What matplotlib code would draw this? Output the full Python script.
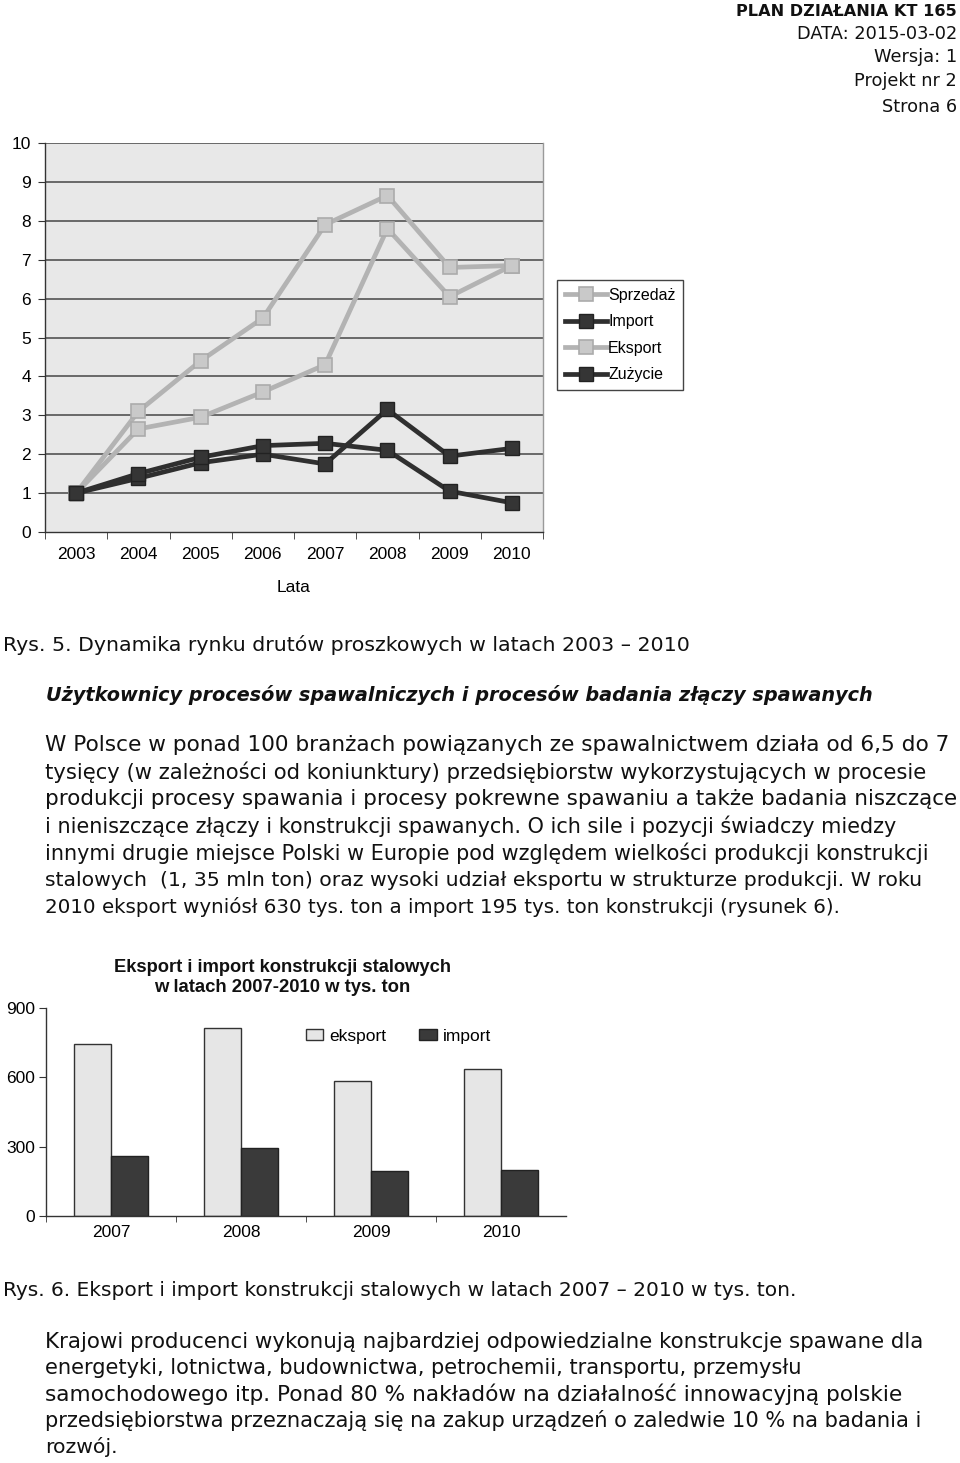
import matplotlib
matplotlib.use("Agg")
import matplotlib.pyplot as plt
from matplotlib.lines import Line2D
from matplotlib.patches import Patch
import numpy as np

# ---------------- data ----------------
line_years = ['2003', '2004', '2005', '2006', '2007', '2008', '2009', '2010']
sprzedaz = [1.0, 3.1, 4.4, 5.5, 7.9, 8.65, 6.8, 6.85]
importv = [1.0, 1.38, 1.78, 2.0, 1.75, 3.15, 1.95, 2.15]
eksportv = [1.0, 2.65, 2.95, 3.6, 4.3, 7.8, 6.05, 6.85]
zuzycie = [1.0, 1.5, 1.92, 2.22, 2.28, 2.1, 1.05, 0.75]
line_yticks = list(range(0, 11))

bar_years = ['2007', '2008', '2009', '2010']
bar_eksport = [745, 815, 585, 635]
bar_import = [260, 292, 195, 200]
bar_yticks = [0, 300, 600, 900]

W, H = 960, 1463
fig = plt.figure(figsize=(W / 100, H / 100), dpi=100)
fig.patch.set_facecolor('white')
renderer = fig.canvas.get_renderer()

CHART_FONT = ['Liberation Sans', 'DejaVu Sans']
DOC_FONT = ['DejaVu Sans']
TICK_FS = 12.5


def fx(x):
    return x / W


def fy(y):
    return 1 - y / H


def fit_text(x, y, s, width, ha='left', base=12, family=DOC_FONT, **kw):
    t = fig.text(fx(x), fy(y), s, fontsize=base, ha=ha, va='center',
                 family=family, color='#111111', **kw)
    bb = t.get_window_extent(renderer)
    t.set_fontsize(base * width / bb.width)
    return t


# ---------------- header ----------------
fit_text(957, 12, 'PLAN DZIAŁANIA KT 165', 220, ha='right', fontweight='bold')
hdr = fit_text(957, 34, 'DATA: 2015-03-02', 160, ha='right')
hfs = hdr.get_fontsize()
for yy, s in [(57, 'Wersja: 1'), (81, 'Projekt nr 2'), (107, 'Strona 6')]:
    fig.text(fx(957), fy(yy), s, fontsize=hfs, ha='right', va='center',
             family=DOC_FONT, color='#111111')

# ---------------- line chart ----------------
ax = fig.add_axes([fx(45), fy(532), (543 - 45) / W, (532 - 143) / H])
ax.set_facecolor('#e8e8e8')
x = np.arange(len(line_years))
gray_kw = dict(color='#b3b3b3', lw=3.4, marker='s', ms=9.5, mfc='#c9c9c9',
               mec='#ababab', mew=1.2, zorder=3)
black_kw = dict(color='#2f2f2f', lw=3.4, marker='s', ms=9.5, mfc='#353535',
                mec='#222222', mew=1.0, zorder=4)
l1, = ax.plot(x, sprzedaz, **gray_kw)
l3, = ax.plot(x, eksportv, **gray_kw)
l2, = ax.plot(x, importv, **black_kw)
l4, = ax.plot(x, zuzycie, **black_kw)
ax.set_xlim(-0.5, 7.5)
ax.set_ylim(0, 10)
ax.set_yticks(line_yticks)
ax.set_yticklabels([str(v) for v in line_yticks], family=CHART_FONT, fontsize=TICK_FS)
for v in line_yticks[1:]:
    ax.axhline(v, color='#454545', lw=1.1, zorder=1)
ax.set_xticks(x)
ax.set_xticklabels(line_years, family=CHART_FONT, fontsize=TICK_FS)
ax.set_xticks(np.arange(-0.5, 8, 1), minor=True)
ax.tick_params(axis='x', which='major', length=0, pad=11)
ax.tick_params(axis='x', which='minor', length=5, color='#333333', direction='out')
ax.tick_params(axis='y', length=5, color='#333333', pad=5)
for s in ['left', 'bottom']:
    ax.spines[s].set_color('#333333')
    ax.spines[s].set_linewidth(1.0)
ax.spines['top'].set_visible(False)
ax.spines['right'].set_color('#9a9a9a')
ax.spines['right'].set_linewidth(1.0)
ax.set_xlabel('Lata', family=CHART_FONT, fontsize=TICK_FS, labelpad=13)

fig.legend([l1, l2, l3, l4], ['Sprzedaż', 'Import', 'Eksport', 'Zużycie'],
           loc='upper left', bbox_to_anchor=(fx(557), fy(280)),
           prop={'family': CHART_FONT, 'size': 11.5}, frameon=True,
           fancybox=False, edgecolor='#444444', facecolor='white',
           framealpha=1, borderaxespad=0, handlelength=2.6,
           handletextpad=0.1, labelspacing=0.72, borderpad=0.5,
           numpoints=1)

# ---------------- captions / text ----------------
fit_text(3, 645, 'Rys. 5. Dynamika rynku drutów proszkowych w latach 2003 – 2010', 683)
fit_text(46, 695, 'Użytkownicy procesów spawalniczych i procesów badania złączy spawanych',
         824, fontweight='bold', style='italic')

para1 = [
    ('W Polsce w ponad 100 branżach powiązanych ze spawalnictwem działa od 6,5 do 7', 898),
    ('tysięcy (w zależności od koniunktury) przedsiębiorstw wykorzystujących w procesie', 880),
    ('produkcji procesy spawania i procesy pokrewne spawaniu a także badania niszczące', 908),
    ('i nieniszczące złączy i konstrukcji spawanych. O ich sile i pozycji świadczy miedzy', 848),
    ('innymi drugie miejsce Polski w Europie pod względem wielkości produkcji konstrukcji', 882),
    ('stalowych  (1, 35 mln ton) oraz wysoki udział eksportu w strukturze produkcji. W roku', 875),
    ('2010 eksport wyniósł 630 tys. ton a import 195 tys. ton konstrukcji (rysunek 6).', 793),
]
for i, (s, w) in enumerate(para1):
    fit_text(45, 745 + i * 27, s, w)

# ---------------- bar chart ----------------
bx = fig.add_axes([fx(46), fy(1215.7), (566 - 46) / W, (1215.7 - 1008.3) / H])
bx.set_facecolor('white')
xb = np.arange(len(bar_years))
bw = 0.285
b1 = bx.bar(xb - bw / 2, bar_eksport, width=bw, color='#e6e6e6',
            edgecolor='#333333', lw=1.0, zorder=2)
b2 = bx.bar(xb + bw / 2, bar_import, width=bw, color='#3a3a3a',
            edgecolor='#222222', lw=1.0, zorder=2)
bx.set_xlim(-0.5, 3.5)
bx.set_ylim(0, 900)
bx.set_yticks(bar_yticks)
bx.set_yticklabels([str(v) for v in bar_yticks], family=CHART_FONT, fontsize=TICK_FS)
bx.set_xticks(xb)
bx.set_xticklabels(bar_years, family=CHART_FONT, fontsize=TICK_FS)
bx.set_xticks(np.arange(-0.5, 3.6, 1)[:-1], minor=True)
bx.tick_params(axis='x', which='major', length=0, pad=7)
bx.tick_params(axis='x', which='minor', length=4, color='#333333')
bx.tick_params(axis='y', length=5, color='#333333', pad=3)
for s in ['top', 'right']:
    bx.spines[s].set_visible(False)
for s in ['left', 'bottom']:
    bx.spines[s].set_color('#333333')
    bx.spines[s].set_linewidth(1.0)

fit_text(282, 968, 'Eksport i import konstrukcji stalowych', 337, ha='center',
         family=CHART_FONT, fontweight='bold')
fit_text(282, 988, 'w latach 2007-2010 w tys. ton', 256, ha='center',
         family=CHART_FONT, fontweight='bold')

fig.legend([Patch(facecolor='#e6e6e6', edgecolor='#333333'),
            Patch(facecolor='#3a3a3a', edgecolor='#222222')],
           ['eksport', 'import'], loc='center left',
           bbox_to_anchor=(fx(306), fy(1036)), ncol=2, frameon=False,
           prop={'family': CHART_FONT, 'size': 12.5}, borderaxespad=0,
           borderpad=0, handlelength=1.0, handleheight=0.55,
           handletextpad=0.35, columnspacing=1.9)

# ---------------- captions / text 2 ----------------
fit_text(3, 1291, 'Rys. 6. Eksport i import konstrukcji stalowych w latach 2007 – 2010 w tys. ton.', 789)
para2 = [
    ('Krajowi producenci wykonują najbardziej odpowiedzialne konstrukcje spawane dla', 878),
    ('energetyki, lotnictwa, budownictwa, petrochemii, transportu, przemysłu', 755),
    ('samochodowego itp. Ponad 80 % nakładów na działalność innowacyjną polskie', 852),
    ('przedsiębiorstwa przeznaczają się na zakup urządzeń o zaledwie 10 % na badania i', 877),
    ('rozwój.', 72),
]
for i, (s, w) in enumerate(para2):
    fit_text(45, 1342 + i * 26.2, s, w)

fig.savefig('out.png', dpi=100, facecolor='white')
